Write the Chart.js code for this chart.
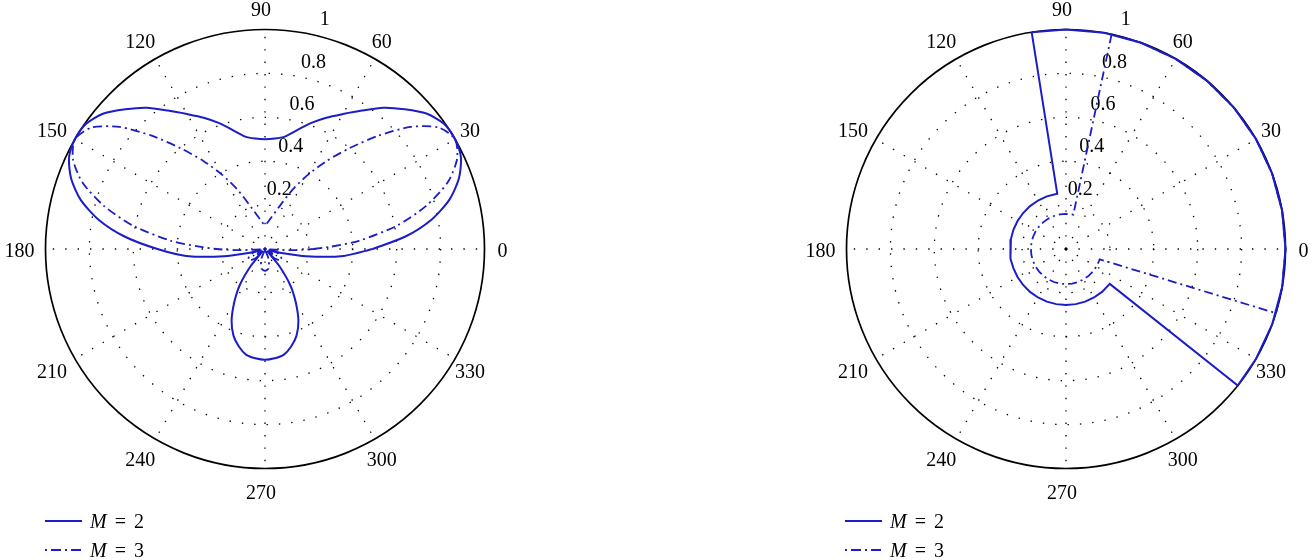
<!DOCTYPE html>
<html lang="en">
  <head>
    <meta charset="UTF-8" />
    <title>Polar patterns M = 2, M = 3</title>
    <script src="https://cdn.jsdelivr.net/npm/chart.js"></script>
    <style>
      body { margin: 0; background: #fff; font-family: "Liberation Serif", serif; }
      .plot { position: absolute; top: 0; height: 560px; }
      .key { position: absolute; height: 24px; }
      .lbl { position: absolute; font-size: 20px; line-height: 24px; word-spacing: 3px; color: #000; }
    </style>
  </head>
  <body>
    <div class="plot" style="left:0;width:530px"><canvas id="leftChart"></canvas></div>
    <div class="plot" style="left:800px;width:516px"><canvas id="rightChart"></canvas></div>

    <svg class="key" style="left:45px;top:509px" width="38" height="24"><line x1="0" y1="12" x2="37" y2="12" stroke="#1c1cc8" stroke-width="2"/></svg>
    <div class="lbl" style="left:90px;top:509px"><i>M</i> = 2</div>
    <svg class="key" style="left:45px;top:538px" width="38" height="24"><line x1="0" y1="12" x2="37" y2="12" stroke="#1c1cc8" stroke-width="2" stroke-dasharray="2 4 10 4"/></svg>
    <div class="lbl" style="left:90px;top:538px"><i>M</i> = 3</div>

    <svg class="key" style="left:845px;top:509px" width="38" height="24"><line x1="0" y1="12" x2="37" y2="12" stroke="#1c1cc8" stroke-width="2"/></svg>
    <div class="lbl" style="left:890px;top:509px"><i>M</i> = 2</div>
    <svg class="key" style="left:845px;top:538px" width="38" height="24"><line x1="0" y1="12" x2="37" y2="12" stroke="#1c1cc8" stroke-width="2" stroke-dasharray="2 4 10 4"/></svg>
    <div class="lbl" style="left:890px;top:538px"><i>M</i> = 3</div>

    <script>
      // axis ticks
      const angleTicks = [0, 30, 60, 90, 120, 150, 180, 210, 240, 270, 300, 330];
      const ringTicks = [0.2, 0.4, 0.6, 0.8, 1];
      const ringLabels = ["0.2", "0.4", "0.6", "0.8", "1"];
      const seriesNames = ["M = 2", "M = 3"];

      // left plot, angle in degrees, normalised radius
      const leftM2Angles = [0, 5, 10, 15, 20, 25, 30, 35, 40, 45, 50, 55, 60, 65, 70, 75, 80, 85, 90,
        95, 100, 105, 110, 115, 120, 125, 130, 135, 140, 145, 150, 155, 160, 165, 170, 175, 180,
        185, 190, 194, 198, 205, 215, 225, 230, 235, 240, 245, 250, 255, 260, 265, 270,
        275, 280, 285, 290, 295, 300, 305, 310, 315, 325, 335, 342, 346, 350, 355, 360];
      const leftM2R = [0.49, 0.64, 0.77, 0.87, 0.94, 0.985, 1.0, 0.995, 0.96, 0.9, 0.84, 0.77, 0.71, 0.66, 0.61, 0.56, 0.52, 0.505, 0.5,
        0.505, 0.52, 0.56, 0.61, 0.66, 0.71, 0.77, 0.84, 0.9, 0.96, 0.995, 1.0, 0.985, 0.94, 0.87, 0.77, 0.64, 0.49,
        0.36, 0.19, 0.07, 0.02, 0.03, 0.04, 0.02, 0.1, 0.2, 0.28, 0.36, 0.42, 0.46, 0.49, 0.5, 0.505,
        0.5, 0.49, 0.46, 0.42, 0.36, 0.28, 0.2, 0.1, 0.02, 0.04, 0.03, 0.02, 0.07, 0.19, 0.36, 0.49];

      const leftM3Angles = [0, 2, 5, 10, 15, 20, 25, 30, 35, 40, 45, 50, 55, 60, 65, 70, 80, 90,
        100, 110, 115, 120, 125, 130, 135, 140, 145, 150, 155, 160, 165, 170, 175, 178, 180,
        182, 184, 186, 195, 205, 215, 225, 240, 250, 260, 270, 280, 290, 300,
        315, 325, 335, 345, 354, 356, 358, 360];
      const leftM3R = [0.22, 0.3, 0.43, 0.61, 0.76, 0.885, 0.965, 1.0, 0.965, 0.865, 0.73, 0.6, 0.49, 0.39, 0.3, 0.22, 0.14, 0.11,
        0.14, 0.22, 0.3, 0.39, 0.49, 0.6, 0.73, 0.865, 0.965, 1.0, 0.965, 0.885, 0.76, 0.61, 0.43, 0.3, 0.22,
        0.14, 0.05, 0.0, 0.05, 0.08, 0.09, 0.06, 0.0, 0.05, 0.09, 0.1, 0.09, 0.05, 0.0,
        0.06, 0.09, 0.08, 0.05, 0.0, 0.05, 0.14, 0.22];

      // right plot
      const rightM2Angles = [99, 99, 110, 120, 130, 140, 150, 160, 170, 180, 190, 200, 210, 220, 230, 240,
        250, 260, 270, 280, 290, 300, 310, 321.5, 321.5, 330, 340, 350, 0, 10, 20, 30, 40, 50, 60, 70, 80, 90, 99];
      const rightM2R = [1.0, 0.255, 0.255, 0.255, 0.255, 0.255, 0.255, 0.255, 0.255, 0.255, 0.255, 0.255, 0.255, 0.255, 0.255, 0.255,
        0.255, 0.255, 0.255, 0.255, 0.255, 0.255, 0.255, 0.255, 1.0, 1.0, 1.0, 1.0, 1.0, 1.0, 1.0, 1.0, 1.0, 1.0, 1.0, 1.0, 1.0, 1.0, 1.0];

      const rightM3Angles = [78, 78, 90, 100, 110, 120, 130, 140, 150, 160, 170, 180, 190, 200, 210, 220, 230,
        240, 250, 260, 270, 280, 290, 300, 310, 320, 330, 340, 343, 343, 350, 0, 10, 20, 30, 40, 50, 60, 70, 78];
      const rightM3R = [1.0, 0.16, 0.16, 0.16, 0.16, 0.16, 0.16, 0.16, 0.16, 0.16, 0.16, 0.16, 0.16, 0.16, 0.16, 0.16, 0.16,
        0.16, 0.16, 0.16, 0.16, 0.16, 0.16, 0.16, 0.16, 0.16, 0.16, 0.16, 0.16, 1.0, 1.0, 1.0, 1.0, 1.0, 1.0, 1.0, 1.0, 1.0, 1.0, 1.0];

      const blue = "#1c1cc8";
      const rad = (d) => (d * Math.PI) / 180;

      function toPoints(angles, radii) {
        return angles.map((a, i) => ({
          x: radii[i] * Math.cos(rad(a)),
          y: radii[i] * Math.sin(rad(a)),
        }));
      }

      // dotted polar grid, outer circle and the labels
      const polarGrid = {
        id: "polarGrid",
        beforeDatasetsDraw(chart) {
          const { ctx } = chart;
          const { x, y } = chart.scales;
          const px = (r, a) => x.getPixelForValue(r * Math.cos(rad(a)));
          const py = (r, a) => y.getPixelForValue(r * Math.sin(rad(a)));
          const cx = x.getPixelForValue(0);
          const cy = y.getPixelForValue(0);

          ctx.save();
          ctx.strokeStyle = "#000";
          ctx.lineWidth = 1.3;
          ctx.setLineDash([1.4, 11]);
          ringTicks.slice(0, -1).forEach((v) => {
            ctx.beginPath();
            ctx.arc(cx, cy, px(v, 0) - cx, 0, 2 * Math.PI);
            ctx.stroke();
          });
          angleTicks.forEach((a) => {
            ctx.beginPath();
            ctx.moveTo(cx, cy);
            ctx.lineTo(px(1, a), py(1, a));
            ctx.stroke();
          });

          ctx.setLineDash([]);
          ctx.lineWidth = 1.7;
          ctx.beginPath();
          ctx.arc(cx, cy, px(1, 0) - cx, 0, 2 * Math.PI);
          ctx.stroke();

          ctx.fillStyle = "#000";
          ctx.font = '20px "Liberation Serif"';
          ctx.textAlign = "center";
          ctx.textBaseline = "middle";
          angleTicks.forEach((a) => {
            ctx.fillText(String(a), px(1.1, a) - 4, py(1.1, a) + 3);
          });
          ringTicks.forEach((v, i) => {
            ctx.fillText(ringLabels[i], px(v, 75) + 3, py(v, 75) - 17);
          });
          ctx.restore();
        },
      };

      function makeChart(id, pad, m2Angles, m2R, m3Angles, m3R, tension) {
        new Chart(document.getElementById(id), {
          type: "scatter",
          data: {
            datasets: [
              {
                label: seriesNames[0],
                data: toPoints(m2Angles, m2R),
                showLine: true,
                borderColor: blue,
                borderWidth: 2,
                tension: tension,
                pointRadius: 0,
                clip: false,
              },
              {
                label: seriesNames[1],
                data: toPoints(m3Angles, m3R),
                showLine: true,
                borderColor: blue,
                borderWidth: 1.8,
                borderDash: [9, 4, 2, 4],
                tension: tension,
                pointRadius: 0,
                clip: false,
              },
            ],
          },
          options: {
            responsive: true,
            maintainAspectRatio: false,
            animation: false,
            layout: { padding: pad },
            elements: { line: { capBezierPoints: false } },
            scales: {
              x: { type: "linear", min: -1, max: 1, display: false },
              y: { type: "linear", min: -1, max: 1, display: false },
            },
            plugins: { legend: { display: false }, tooltip: { enabled: false } },
          },
          plugins: [polarGrid],
        });
      }

      makeChart("leftChart", { left: 45.5, right: 45.5, top: 29.5, bottom: 91.5 },
        leftM2Angles, leftM2R, leftM3Angles, leftM3R, 0.25);
      makeChart("rightChart", { left: 46.5, right: 30.5, top: 29.5, bottom: 91.5 },
        rightM2Angles, rightM2R, rightM3Angles, rightM3R, 0);
    </script>
  </body>
</html>
